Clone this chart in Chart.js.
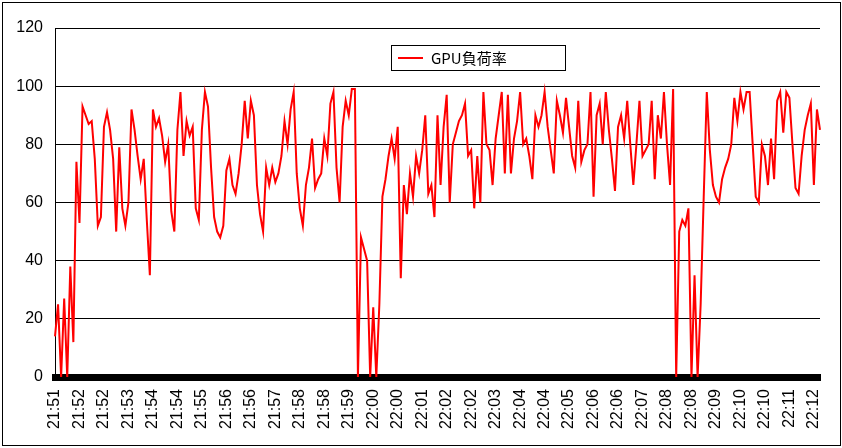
<!DOCTYPE html>
<html>
<head>
<meta charset="utf-8">
<title>GPU負荷率</title>
<script src="https://cdn.jsdelivr.net/npm/chart.js@4/dist/chart.umd.min.js"></script>
<style>
  html, body { margin: 0; padding: 0; background: #fff; }
  #wrap { position: relative; width: 842px; height: 448px; }
</style>
</head>
<body>
<div id="wrap"><canvas id="gpuChart"></canvas></div>
<script>
'use strict';

// --- data ---
const tickLabels = [
  '21:51', '21:52', '21:52', '21:53', '21:54', '21:54', '21:55', '21:56',
  '21:56', '21:57', '21:58', '21:58', '21:59', '22:00', '22:00', '22:01',
  '22:02', '22:02', '22:03', '22:04', '22:04', '22:05', '22:06', '22:06',
  '22:07', '22:08', '22:08', '22:09', '22:10', '22:10', '22:11', '22:12',
];
const LABEL_EVERY = 8; // one time label per 8 samples

const gpuLoad = [
  14, 25, 0, 27, 0, 38, 12, 74, 53, 93,
  90, 87, 88, 75, 52, 55, 86, 91, 85, 75,
  50, 79, 58, 52, 60, 92, 85, 76, 68, 75,
  54, 35, 92, 86, 89, 83, 74, 80, 57, 50,
  85, 98, 76, 88, 83, 86, 58, 54, 85, 98,
  93, 72, 55, 50, 48, 52, 71, 75, 66, 63,
  70, 80, 95, 82, 95, 90, 66, 56, 50, 72,
  66, 72, 67, 70, 76, 88, 80, 92, 98, 70,
  58, 52, 66, 72, 82, 65, 68, 70, 82, 76,
  94, 98, 72, 60, 86, 95, 90, 99, 99, 0,
  48, 44, 40, 0, 24, 0, 25, 62, 68, 76,
  82, 75, 86, 34, 66, 56, 70, 62, 76, 70,
  78, 90, 63, 66, 55, 90, 66, 86, 97, 60,
  80, 84, 88, 90, 94, 76, 78, 58, 76, 60,
  98, 80, 78, 66, 82, 90, 98, 70, 97, 70,
  82, 88, 98, 80, 82, 76, 68, 90, 86, 90,
  98, 86, 78, 70, 95, 90, 84, 96, 86, 76,
  72, 95, 74, 78, 80, 98, 62, 90, 94, 80,
  98, 85, 75, 64, 86, 90, 82, 95, 80, 66,
  80, 95, 76, 78, 80, 95, 68, 90, 82, 98,
  80, 66, 99, 0, 50, 54, 52, 58, 0, 35,
  0, 25, 62, 98, 78, 66, 62, 60, 68, 72,
  75, 80, 96, 88, 98, 92, 98, 98, 80, 62,
  60, 80, 76, 66, 82, 68, 95, 98, 84, 98,
  96, 80, 65, 63, 76, 85, 90, 94, 66, 92,
  85,
];

const seriesName = 'GPU負荷率';

const categories = gpuLoad.map((_, i) =>
  i % LABEL_EVERY === 0 ? (tickLabels[i / LABEL_EVERY] || '') : ''
);

// --- frame + legend box drawn inside the plot (Excel style) ---
const excelFrame = {
  id: 'excelFrame',
  beforeDraw(chart) {
    const ctx = chart.ctx;
    ctx.save();
    ctx.fillStyle = '#fff';
    ctx.fillRect(0, 0, chart.width, chart.height);
    ctx.restore();
  },
  afterDraw(chart) {
    const ctx = chart.ctx;
    ctx.save();
    ctx.strokeStyle = '#000';
    ctx.lineWidth = 1;
    ctx.strokeRect(2.5, 2.5, 838, 443);

    // legend
    ctx.fillStyle = '#fff';
    ctx.fillRect(391, 45, 174, 25);
    ctx.strokeRect(391.5, 45.5, 174, 25);
    ctx.strokeStyle = '#ff0000';
    ctx.lineWidth = 2;
    ctx.beginPath();
    ctx.moveTo(398, 58);
    ctx.lineTo(423, 58);
    ctx.stroke();
    ctx.fillStyle = '#000';
    ctx.font = '15px "Noto Sans CJK JP"';
    ctx.textBaseline = 'middle';
    ctx.fillText(seriesName, 431, 58);
    ctx.restore();
  },
};

const c1 = document.getElementById('gpuChart');
new Chart(c1.getContext('2d'), {
  type: 'line',
  data: {
    labels: categories,
    datasets: [{
      label: seriesName,
      data: gpuLoad,
      borderColor: '#ff0000',
      borderWidth: 2,
      pointRadius: 0,
      tension: 0,
      fill: false,
    }],
  },
  options: {
    responsive: true,
    maintainAspectRatio: false,
    animation: false,
    layout: { padding: { top: 28, right: 22, left: 0, bottom: 0 } },
    plugins: { legend: { display: false }, tooltip: { enabled: false } },
    scales: {
      x: {
        offset: false,
        grid: { display: false, drawTicks: false },
        border: { display: true, color: '#000', width: 7 },
        ticks: {
          autoSkip: false,
          minRotation: 90,
          maxRotation: 90,
          padding: 12,
          color: '#000',
          font: { family: '"Liberation Sans"', size: 16 },
        },
        afterFit(scale) {
          scale.height = 71;
          scale.paddingLeft = 0;
          scale.paddingRight = 0;
        },
      },
      y: {
        min: 0,
        max: 120,
        ticks: {
          stepSize: 20,
          padding: 12,
          color: '#000',
          font: { family: '"Liberation Sans"', size: 16 },
        },
        grid: { color: '#000', lineWidth: 1, drawTicks: false },
        border: { display: true, color: '#000', width: 1 },
        afterFit(scale) {
          scale.width = 55;
          scale.paddingTop = 0;
          scale.paddingBottom = 0;
        },
      },
    },
  },
  plugins: [excelFrame],
});
</script>
</body>
</html>
